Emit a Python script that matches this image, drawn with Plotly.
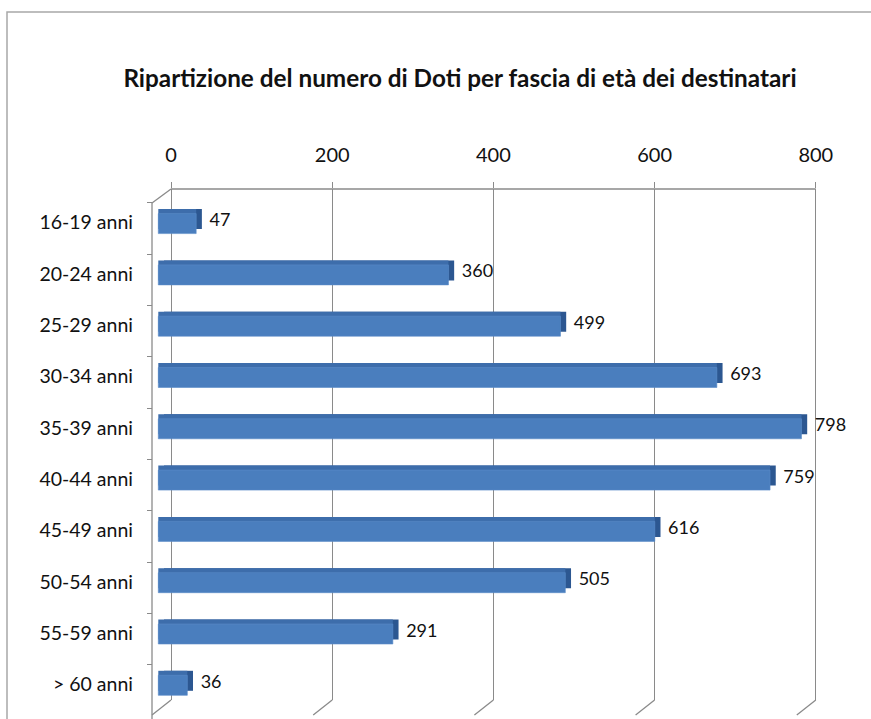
import plotly.graph_objects as go

# ---- data ----
categories = ["16-19 anni", "20-24 anni", "25-29 anni", "30-34 anni", "35-39 anni",
              "40-44 anni", "45-49 anni", "50-54 anni", "55-59 anni", "> 60 anni"]
values = [47, 360, 499, 693, 798, 759, 616, 505, 291, 36]
x_ticks = [0, 200, 400, 600, 800]
title_text = "Ripartizione del numero di Doti per fascia di età dei destinatari"

# ---- layout geometry (pixels) ----
W, H = 871, 719
FONT = "Lato"
k = 0.806                      # px per unit
dom_l, dom_r = 100, 871        # common x domain in px
z_front, z_depth, z_grid = 158.3, 164.0, 171.0   # pixel of value 0 for each plane
y_top, y_bot = 189, 700        # plot (back wall) vertical extent
cat_c0, cat_step = 228.6, 51.3  # front-plane category centre / spacing


def xr(z):
    return [(dom_l - z) / k, (dom_r - z) / k]


def py(p):
    return 1 - p / H


yrange = [(y_bot - cat_c0) / cat_step, (y_top - cat_c0) / cat_step]
bar_w = 20 / cat_step
bar_shift = -5 / cat_step
depth_up = 4.5 / cat_step

front_col = "#4a7ebe"
top_col = "#3d6dab"
side_col = "#2c5791"
grid_col = "#8a8a8a"

fig = go.Figure()
# depth (right face)
fig.add_trace(go.Bar(
    y=categories, x=values, orientation="h", xaxis="x", yaxis="y",
    width=bar_w, offset=bar_shift - bar_w / 2 - depth_up,
    marker=dict(color=side_col, line=dict(width=0)),
    text=values, texttemplate=" %{x}", textposition="outside",
    constraintext="none", cliponaxis=False,
    textfont=dict(family=FONT, size=18, color="#111111"),
    hoverinfo="skip", showlegend=False))
# top face
fig.add_trace(go.Bar(
    y=categories, x=values, orientation="h", xaxis="x2", yaxis="y",
    width=bar_w, offset=bar_shift - bar_w / 2 - depth_up,
    marker=dict(color=top_col, line=dict(width=0)),
    cliponaxis=False, hoverinfo="skip", showlegend=False))
# front face
fig.add_trace(go.Bar(
    y=categories, x=values, orientation="h", xaxis="x2", yaxis="y",
    width=bar_w, offset=bar_shift - bar_w / 2,
    marker=dict(color=front_col, line=dict(width=0.6, color="#5a8cc8")),
    cliponaxis=False, hoverinfo="skip", showlegend=False))

shapes = [
    # outer chart border
    dict(type="rect", xref="paper", yref="paper", x0=7 / W, x1=1.05, y0=-0.05, y1=py(12),
         line=dict(color="#a8a8a8", width=1.5), layer="below"),
    # front left axis line
    dict(type="line", xref="paper", yref="paper", x0=152 / W, x1=152 / W, y0=py(203), y1=py(725),
         line=dict(color=grid_col, width=1.3)),
    # top-left diagonal
    dict(type="line", xref="paper", yref="paper", x0=152 / W, x1=z_grid / W, y0=py(203), y1=py(y_top),
         line=dict(color=grid_col, width=1.3)),
    # top edge of back wall
    dict(type="line", xref="x3", yref="paper", x0=x_ticks[0], x1=x_ticks[-1], y0=py(y_top), y1=py(y_top),
         line=dict(color=grid_col, width=1.3)),
]
for v in x_ticks:
    shapes.append(dict(type="line", xref="x3", xsizemode="pixel", xanchor=v, x0=0, x1=-19,
                       yref="paper", ysizemode="pixel", yanchor=py(y_bot), y0=0, y1=-15,
                       line=dict(color=grid_col, width=1.3)))

fig.update_layout(
    width=W, height=H,
    margin=dict(l=0, r=0, t=0, b=0),
    paper_bgcolor="white", plot_bgcolor="rgba(0,0,0,0)",
    barmode="overlay",
    showlegend=False,
    font=dict(family=FONT, color="#111111"),
    title=dict(text=title_text, x=460 / W, xanchor="center", y=py(78), yanchor="middle",
               font=dict(family=FONT, size=24.3, color="#111111", weight="bold")),
    xaxis=dict(domain=[dom_l / W, dom_r / W], range=xr(z_depth), visible=False, anchor="y"),
    xaxis2=dict(overlaying="x", range=xr(z_front), visible=False, anchor="y"),
    xaxis3=dict(overlaying="x", range=xr(z_grid), anchor="y", side="top",
                tickmode="array", tickvals=x_ticks, ticktext=[str(t) for t in x_ticks],
                showgrid=True, gridcolor=grid_col, gridwidth=1.3, zeroline=False,
                showline=False, ticks="outside", ticklen=6, tickcolor=grid_col, tickwidth=1.3,
                ticklabelstandoff=12,
                tickfont=dict(family=FONT, size=20, color="#111111")),
    yaxis=dict(domain=[py(y_bot), py(y_top)], range=yrange, type="category",
               categoryorder="array", categoryarray=categories,
               anchor="free", position=152 / W, showgrid=False, zeroline=False, showline=False,
               ticks="outside", tickson="boundaries", ticklen=5, tickcolor=grid_col, tickwidth=1.3,
               ticklabelstandoff=19, ticklabelshift=6,
               tickfont=dict(family=FONT, size=19.5, color="#111111")),
    shapes=shapes,
)

fig.write_html("out.html", config={"displayModeBar": False},
               post_script="document.body.style.margin='0';")
